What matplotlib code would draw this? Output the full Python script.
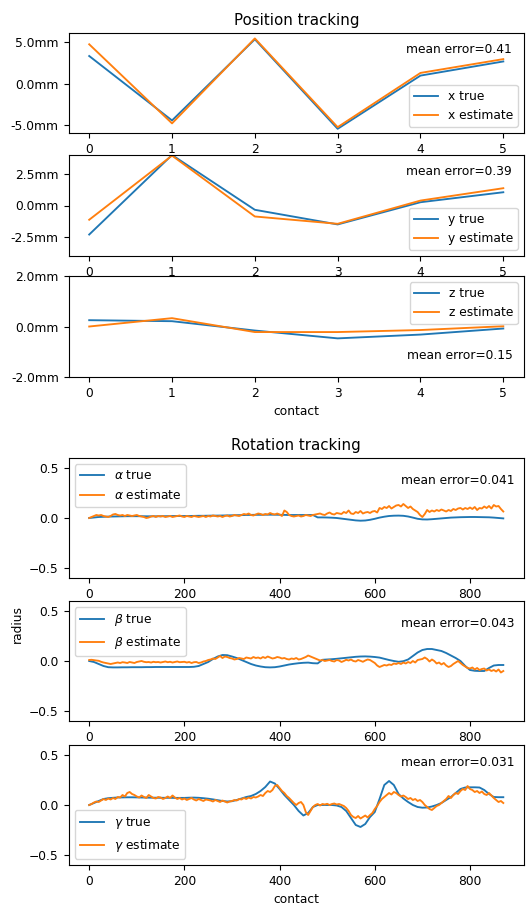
import numpy as np
import matplotlib
matplotlib.use("Agg")
import matplotlib.pyplot as plt
from matplotlib.ticker import FormatStrFormatter

# position tracking, one value per contact
contacts = [0, 1, 2, 3, 4, 5]
x_true = [3.3, -4.4, 5.3, -5.4, 0.96, 2.65]
x_est = [4.7, -4.75, 5.4, -5.2, 1.28, 2.93]
y_true = [-2.3, 4.0, -0.34, -1.5, 0.26, 1.05]
y_est = [-1.13, 3.95, -0.87, -1.45, 0.39, 1.37]
z_true = [0.25, 0.21, -0.16, -0.47, -0.32, -0.08]
z_est = [0.0, 0.33, -0.22, -0.22, -0.14, 0.01]
pos_err = [0.41, 0.39, 0.15]

# rotation tracking, true sampled every 10 contacts, estimate every 5
alpha_true = [
    0.0, 0.005, 0.01, 0.012, 0.014, 0.015, 0.016, 0.017, 0.018, 0.018,
    0.018, 0.018, 0.017, 0.017, 0.017, 0.018, 0.018, 0.019, 0.02, 0.02,
    0.02, 0.02, 0.021, 0.022, 0.022, 0.023, 0.024, 0.024, 0.025, 0.026,
    0.027, 0.028, 0.029, 0.03, 0.031, 0.032, 0.032, 0.033, 0.033, 0.033,
    0.032, 0.031, 0.03, 0.03, 0.03, 0.03, 0.03, 0.03, 0.006, 0.006,
    0.005, 0.003, 0.0, -0.006, -0.012, -0.018, -0.024, -0.027, -0.025, -0.018,
    -0.008, 0.004, 0.013, 0.02, 0.023, 0.024, 0.022, 0.015, 0.004, -0.008,
    -0.014, -0.015, -0.012, -0.008, -0.004, 0.0, 0.004, 0.006, 0.008, 0.009,
    0.01, 0.01, 0.009, 0.008, 0.007, 0.004, 0.0, -0.004]
alpha_est = [
    0.0, 0.01, 0.02, 0.03, 0.025, 0.03, 0.02, 0.015, 0.01, 0.02,
    0.035, 0.04, 0.03, 0.025, 0.03, 0.02, 0.03, 0.025, 0.02, 0.025,
    0.03, 0.02, 0.015, 0.01, 0.0, 0.005, 0.015, 0.02, 0.01, 0.02,
    0.015, 0.02, 0.01, 0.015, 0.02, 0.01, 0.015, 0.02, 0.025, 0.015,
    0.01, 0.02, 0.015, 0.01, 0.02, 0.015, 0.01, 0.015, 0.02, 0.01,
    0.02, 0.015, 0.025, 0.02, 0.015, 0.02, 0.01, 0.02, 0.025, 0.015,
    0.02, 0.03, 0.025, 0.02, 0.03, 0.04, 0.035, 0.045, 0.03, 0.025,
    0.035, 0.045, 0.04, 0.03, 0.04, 0.035, 0.05, 0.04, 0.035, 0.045,
    0.035, 0.02, 0.075, 0.06, 0.03, 0.02, 0.015, 0.02, 0.025, 0.015,
    0.02, 0.03, 0.025, 0.02, 0.03, 0.035, 0.04, 0.045, 0.035, 0.03,
    0.045, 0.055, 0.04, 0.035, 0.05, 0.045, 0.04, 0.06, 0.05, 0.075,
    0.045, 0.04, 0.06, 0.05, 0.07, 0.045, 0.055, 0.06, 0.05, 0.065,
    0.07, 0.055, 0.1, 0.09, 0.11, 0.1, 0.12, 0.095, 0.11, 0.125,
    0.13, 0.115, 0.14, 0.12, 0.1, 0.115, 0.09, 0.075, 0.06, 0.03,
    0.01, 0.04, 0.08, 0.06, 0.075, 0.065, 0.08, 0.07, 0.085, 0.075,
    0.065, 0.08, 0.07, 0.09, 0.08, 0.095, 0.1, 0.085, 0.1, 0.09,
    0.105, 0.09, 0.11, 0.08, 0.1, 0.095, 0.115, 0.1, 0.12, 0.095,
    0.13, 0.115, 0.12, 0.09, 0.065]
beta_true = [
    0.0, -0.01, -0.03, -0.05, -0.062, -0.064, -0.064, -0.063, -0.063, -0.062,
    -0.062, -0.062, -0.061, -0.061, -0.06, -0.06, -0.06, -0.06, -0.06, -0.06,
    -0.06, -0.06, -0.058, -0.05, -0.03, -0.01, 0.02, 0.045, 0.06, 0.058,
    0.045, 0.03, 0.01, -0.01, -0.03, -0.045, -0.055, -0.062, -0.064, -0.062,
    -0.055, -0.045, -0.035, -0.028, -0.022, -0.018, -0.016, -0.022, -0.024, 0.012,
    0.015, 0.018, 0.022, 0.027, 0.032, 0.037, 0.042, 0.045, 0.046, 0.044,
    0.04, 0.034, 0.022, 0.01, 0.0, -0.008, -0.002, 0.015, 0.05, 0.085,
    0.11, 0.12, 0.12, 0.11, 0.1, 0.08, 0.055, 0.03, 0.0, -0.05,
    -0.09, -0.098, -0.1, -0.1, -0.07, -0.045, -0.04, -0.04]
beta_est = [
    0.01, 0.012, 0.008, 0.005, 0.002, -0.008, -0.015, -0.02, -0.025, -0.03,
    -0.025, -0.02, -0.015, -0.02, -0.012, -0.015, -0.02, -0.01, -0.015, -0.02,
    -0.01, -0.005, 0.0, -0.008, -0.012, -0.01, -0.015, -0.008, -0.012, -0.01,
    -0.015, -0.01, -0.005, -0.012, -0.008, -0.015, -0.01, -0.005, -0.012, -0.01,
    -0.008, -0.015, -0.01, -0.02, -0.012, -0.01, -0.02, -0.015, -0.005, 0.0,
    0.01, 0.015, 0.025, 0.02, 0.035, 0.05, 0.03, 0.045, 0.04, 0.03,
    0.025, 0.015, 0.02, 0.03, 0.025, 0.02, 0.035, 0.03, 0.025, 0.04,
    0.03, 0.035, 0.025, 0.04, 0.03, 0.045, 0.035, 0.025, 0.03, 0.04,
    0.035, 0.025, 0.03, 0.02, 0.015, 0.025, 0.02, 0.03, 0.015, 0.02,
    0.03, 0.04, 0.055, 0.045, 0.035, 0.025, 0.015, 0.005, 0.01, 0.0,
    0.005, 0.01, 0.0, -0.005, 0.01, 0.005, -0.01, 0.0, 0.012, 0.005,
    0.015, 0.0, -0.005, 0.01, 0.002, -0.008, 0.005, 0.015, 0.01, -0.005,
    -0.02, -0.045, -0.06, -0.05, -0.04, -0.045, -0.035, -0.04, -0.025, -0.03,
    -0.02, -0.03, -0.015, -0.025, -0.01, -0.02, 0.0, -0.015, 0.01, 0.015,
    0.02, 0.035, 0.02, -0.005, 0.015, 0.0, -0.025, -0.015, -0.035, -0.02,
    -0.045, -0.06, -0.05, -0.03, -0.015, 0.0, -0.02, -0.04, -0.055, -0.07,
    -0.075, -0.065, -0.085, -0.07, -0.09, -0.08, -0.075, -0.095, -0.085, -0.1,
    -0.09, -0.105, -0.085, -0.115, -0.1]
gamma_true = [
    0.0, 0.02, 0.04, 0.06, 0.068, 0.072, 0.075, 0.076, 0.077, 0.077,
    0.076, 0.075, 0.074, 0.073, 0.073, 0.072, 0.072, 0.072, 0.071, 0.071,
    0.071, 0.073, 0.074, 0.072, 0.068, 0.063, 0.056, 0.048, 0.04, 0.035,
    0.038, 0.05, 0.065, 0.08, 0.09, 0.11, 0.14, 0.18, 0.235, 0.215,
    0.16, 0.1, 0.05, 0.0, -0.06, -0.105, -0.08, -0.02, 0.0, 0.0,
    0.0, 0.0, -0.005, -0.02, -0.06, -0.13, -0.2, -0.22, -0.19, -0.12,
    -0.07, 0.06, 0.2, 0.24, 0.2, 0.11, 0.065, 0.03, 0.0, -0.02,
    -0.027, -0.025, -0.015, 0.0, 0.02, 0.05, 0.08, 0.12, 0.16, 0.175,
    0.177, 0.177, 0.175, 0.15, 0.11, 0.08, 0.078, 0.078]
gamma_est = [
    0.0, 0.01, 0.025, 0.035, 0.03, 0.045, 0.06, 0.05, 0.065, 0.055,
    0.07, 0.06, 0.08, 0.075, 0.1, 0.085, 0.12, 0.13, 0.11, 0.1,
    0.085, 0.075, 0.095, 0.08, 0.07, 0.1, 0.085, 0.07, 0.065, 0.08,
    0.075, 0.06, 0.07, 0.085, 0.07, 0.095, 0.075, 0.06, 0.07, 0.055,
    0.065, 0.05, 0.06, 0.07, 0.055, 0.045, 0.06, 0.05, 0.04, 0.055,
    0.05, 0.045, 0.035, 0.05, 0.04, 0.03, 0.045, 0.035, 0.025, 0.035,
    0.04, 0.05, 0.045, 0.06, 0.055, 0.07, 0.06, 0.075, 0.065, 0.08,
    0.075, 0.085, 0.1, 0.09, 0.12, 0.14, 0.13, 0.15, 0.19, 0.2,
    0.17, 0.14, 0.12, 0.09, 0.07, 0.045, 0.02, 0.0, 0.02, 0.03,
    0.0, -0.07, -0.1, -0.06, -0.02, 0.0, 0.01, -0.005, 0.01, 0.005,
    0.012, 0.0, 0.01, 0.015, 0.005, 0.01, 0.0, -0.01, -0.03, -0.06,
    -0.1, -0.12, -0.13, -0.11, -0.135, -0.12, -0.105, -0.125, -0.1, -0.08,
    -0.04, -0.01, 0.03, 0.06, 0.08, 0.1, 0.12, 0.105, 0.13, 0.12,
    0.1, 0.085, 0.095, 0.08, 0.06, 0.07, 0.05, 0.06, 0.04, 0.05,
    0.03, 0.0, -0.02, -0.04, -0.05, -0.03, -0.01, 0.0, 0.02, 0.04,
    0.06, 0.09, 0.07, 0.1, 0.12, 0.11, 0.14, 0.16, 0.15, 0.19,
    0.16, 0.15, 0.13, 0.14, 0.12, 0.135, 0.11, 0.1, 0.12, 0.095,
    0.07, 0.05, 0.03, 0.04, 0.02]
rot_err = [0.041, 0.043, 0.031]

W, H = 532, 907
plt.rcParams['font.size'] = 8.8
plt.rcParams['lines.linewidth'] = 1.35
fig = plt.figure(figsize=(W / 100, H / 100), dpi=100)


def add_ax(top, bottom, left=68.5, right=524):
    return fig.add_axes([left / W, 1 - bottom / H, (right - left) / W, (bottom - top) / H])


# position tracking
pos_axes = [add_ax(33, 133), add_ax(155, 256), add_ax(276, 377)]
pos_data = [(x_true, x_est, 'x'), (y_true, y_est, 'y'), (z_true, z_est, 'z')]
pos_lims = [(-5.9, 6.05), (-4, 4), (-2, 2)]
pos_ticks = [[-5, 0, 5], [-2.5, 0, 2.5], [-2, 0, 2]]
for i, ax in enumerate(pos_axes):
    t, e, name = pos_data[i]
    ax.plot(contacts, t, label=name + ' true')
    ax.plot(contacts, e, label=name + ' estimate')
    ax.set_ylim(*pos_lims[i])
    ax.set_yticks(pos_ticks[i])
    ax.yaxis.set_major_formatter(FormatStrFormatter('%.1fmm'))
    if i == 2:
        ax.legend(loc='upper right')
        ax.text(0.975, 0.21, 'mean error=%.2f' % pos_err[i], transform=ax.transAxes,
                ha='right', va='center')
        ax.set_xlabel('contact')
    else:
        ax.legend(loc='lower right')
        ax.text(0.973, 0.835, 'mean error=%.2f' % pos_err[i], transform=ax.transAxes,
                ha='right', va='center')
pos_axes[0].set_title('Position tracking', fontsize=10.8)

# rotation tracking
rot_axes = [add_ax(458, 578), add_ax(601, 721), add_ax(745, 865)]
rot_data = [(alpha_true, alpha_est, r'$\alpha$'), (beta_true, beta_est, r'$\beta$'),
            (gamma_true, gamma_est, r'$\gamma$')]
for i, ax in enumerate(rot_axes):
    t, e, name = rot_data[i]
    ax.plot(np.arange(len(t)) * 10, t, label=name + ' true')
    ax.plot(np.arange(len(e)) * 5, e, label=name + ' estimate')
    ax.set_ylim(-0.6, 0.6)
    ax.legend(loc='lower left' if i == 2 else 'upper left')
    ax.text(0.98, 0.81 if i < 2 else 0.85, 'mean error=%.3f' % rot_err[i],
            transform=ax.transAxes, ha='right', va='center')
rot_axes[0].set_title('Rotation tracking', fontsize=10.8)
rot_axes[1].set_ylabel('radius')
rot_axes[1].yaxis.set_label_coords(-0.098, 0.81)
rot_axes[2].set_xlabel('contact')

fig.savefig('out.png', dpi=100)
